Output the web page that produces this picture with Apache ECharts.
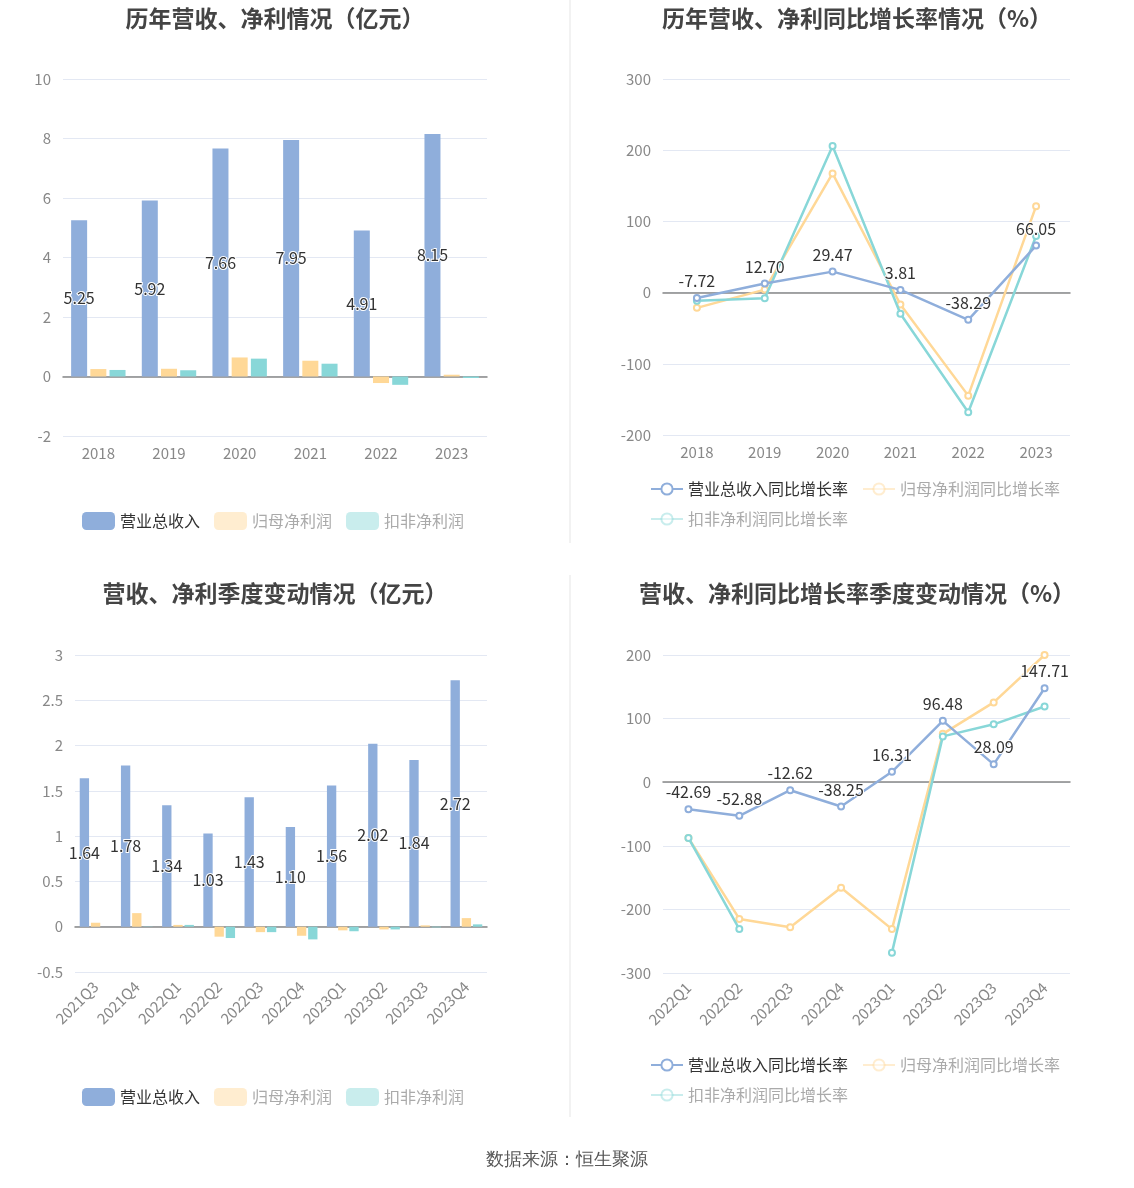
<!DOCTYPE html>
<html><head><meta charset="utf-8">
<script src="https://cdn.jsdelivr.net/npm/echarts@6/dist/echarts.min.js"></script>
<style>html,body{margin:0;padding:0;background:#fff}#c{width:1134px;height:1188px}</style>
</head><body><div id="c"></div>
<script>
const years = ['2018','2019','2020','2021','2022','2023'];
const yearRevenue = [5.25, 5.92, 7.66, 7.95, 4.91, 8.15];
const yearNetProfit = [0.25, 0.26, 0.64, 0.53, -0.22, 0.06];
const yearDeductedProfit = [0.22, 0.21, 0.60, 0.43, -0.28, -0.05];

const yearRevenueGrowth = [-7.72, 12.70, 29.47, 3.81, -38.29, 66.05];
const yearNetProfitGrowth = [-21.4, 4.2, 167.4, -16.7, -144.7, 121.4];
const yearDeductedGrowth = [-11.6, -7.9, 206, -29.8, -168, 79.5];

const quarters = ['2021Q3','2021Q4','2022Q1','2022Q2','2022Q3','2022Q4','2023Q1','2023Q2','2023Q3','2023Q4'];
const qRevenue = [1.64, 1.78, 1.34, 1.03, 1.43, 1.10, 1.56, 2.02, 1.84, 2.72];
const qNetProfit = [0.044, 0.15, 0.02, -0.11, -0.06, -0.10, -0.04, -0.03, 0.015, 0.095];
const qDeductedProfit = [0, 0.003, 0.02, -0.125, -0.06, -0.14, -0.05, -0.03, -0.007, 0.026];

const gQuarters = ['2022Q1','2022Q2','2022Q3','2022Q4','2023Q1','2023Q2','2023Q3','2023Q4'];
const qRevenueGrowth = [-42.69, -52.88, -12.62, -38.25, 16.31, 96.48, 28.09, 147.71];
const qNetProfitGrowth = [-87.7, -215, -228, -166, -231, 76, 125.5, 200];
const qDeductedGrowth = [-87.7, -231, null, null, -268, 72, 91, 119];

const C_BLUE = '#8FAEDB', C_ORANGE = '#FFD897', C_CYAN = '#88D7D8';
const FONT = '"Noto Sans CJK SC","Noto Sans",sans-serif';
const barNames = ['营业总收入','归母净利润','扣非净利润'];
const lineNames = ['营业总收入同比增长率','归母净利润同比增长率','扣非净利润同比增长率'];

const axisLabel = {color:'#888', fontSize:15, fontFamily:FONT};
function xAxis(gi, data, rotate){
  return {type:'category', gridIndex:gi, data:data,
    axisLine:{onZero:true, lineStyle:{color:'#888', width:1.5}},
    axisTick:{alignWithLabel:true, length:6, lineStyle:{color:'#888'}},
    axisLabel:Object.assign({margin: rotate?12:10, rotate:rotate||0, interval:0}, axisLabel)};
}
function yAxis(gi, min, max, interval){
  return {type:'value', gridIndex:gi, min:min, max:max, interval:interval,
    axisLine:{show:false}, axisTick:{show:false},
    splitLine:{lineStyle:{color:'#E3E8F3'}},
    axisLabel:Object.assign({margin:12}, axisLabel)};
}
const barLabel = {show:true, position:'inside', color:'#333', fontSize:16, fontFamily:FONT,
  textBorderColor:'#fff', textBorderWidth:2, formatter:p=>p.value.toFixed(2)};
const lineLabel = {show:true, position:'top', color:'#333', fontSize:16, fontFamily:FONT,
  textBorderColor:'#fff', textBorderWidth:2, formatter:p=>p.value.toFixed(2)};

function bars(xi, rev, np, dp){
  return [
    {name:barNames[0], type:'bar', xAxisIndex:xi, yAxisIndex:xi, data:rev, itemStyle:{color:C_BLUE}, label:barLabel, barGap:'20%'},
    {name:barNames[1], type:'bar', xAxisIndex:xi, yAxisIndex:xi, data:np, itemStyle:{color:C_ORANGE}, barGap:'20%'},
    {name:barNames[2], type:'bar', xAxisIndex:xi, yAxisIndex:xi, data:dp, itemStyle:{color:C_CYAN}, barGap:'20%'}
  ];
}
function lines(xi, rev, np, dp){
  const base = {type:'line', xAxisIndex:xi, yAxisIndex:xi, symbol:'emptyCircle', symbolSize:6, connectNulls:false};
  return [
    Object.assign({}, base, {name:lineNames[0], data:rev, itemStyle:{color:C_BLUE}, lineStyle:{width:2.5, color:C_BLUE}, label:lineLabel, z:5}),
    Object.assign({}, base, {name:lineNames[1], data:np, itemStyle:{color:C_ORANGE}, lineStyle:{width:2.5, color:C_ORANGE}, z:3}),
    Object.assign({}, base, {name:lineNames[2], data:dp, itemStyle:{color:C_CYAN}, lineStyle:{width:2.5, color:C_CYAN}, z:4})
  ];
}
function legendData(names){
  return names.map((n,i)=> i===0 ? {name:n, textStyle:{color:'#333'}} :
    {name:n, textStyle:{color:'#aaa'}, itemStyle:{opacity:0.45}, lineStyle:{opacity:0.45}});
}
const titleStyle = {fontSize:23, fontWeight:'bold', color:'#444', fontFamily:FONT};
const legText = {fontSize:16, fontFamily:FONT};

const option = {
  animation:false,
  textStyle:{fontFamily:FONT},
  title:[
    {text:'历年营收、净利情况（亿元）', left:270, top:2, textAlign:'center', textStyle:titleStyle},
    {text:'历年营收、净利同比增长率情况（%）', left:852, top:2, textAlign:'center', textStyle:titleStyle},
    {text:'营收、净利季度变动情况（亿元）', left:270, top:577, textAlign:'center', textStyle:titleStyle},
    {text:'营收、净利同比增长率季度变动情况（%）', left:852, top:577, textAlign:'center', textStyle:titleStyle}
  ],
  legend:[
    {left:77, top:507, itemWidth:33, itemHeight:18, itemGap:14, icon:'roundRect', data:legendData(barNames), textStyle:legText, selectedMode:false},
    {left:645, top:476, width:450, itemWidth:32, itemHeight:14, itemGap:14, data:legendData(lineNames), textStyle:legText, selectedMode:false},
    {left:77, top:1083, itemWidth:33, itemHeight:18, itemGap:14, icon:'roundRect', data:legendData(barNames), textStyle:legText, selectedMode:false},
    {left:645, top:1052, width:450, itemWidth:32, itemHeight:14, itemGap:14, data:legendData(lineNames), textStyle:legText, selectedMode:false}
  ],
  grid:[
    {left:63, right:647, top:79, bottom:752},
    {left:663, right:64, top:79, bottom:753},
    {left:75, right:647, top:655, bottom:216},
    {left:663, right:64, top:655, bottom:215}
  ],
  xAxis:[xAxis(0, years), xAxis(1, years), xAxis(2, quarters, 45), xAxis(3, gQuarters, 45)],
  yAxis:[yAxis(0,-2,10,2), yAxis(1,-200,300,100), yAxis(2,-0.5,3,0.5), yAxis(3,-300,200,100)],
  series:[].concat(
    bars(0, yearRevenue, yearNetProfit, yearDeductedProfit),
    lines(1, yearRevenueGrowth, yearNetProfitGrowth, yearDeductedGrowth),
    bars(2, qRevenue, qNetProfit, qDeductedProfit),
    lines(3, qRevenueGrowth, qNetProfitGrowth, qDeductedGrowth)
  ),
  graphic:[
    {type:'line', shape:{x1:570, y1:0, x2:570, y2:543}, style:{stroke:'#eeeeee', lineWidth:1.5}},
    {type:'line', shape:{x1:570, y1:575, x2:570, y2:1117}, style:{stroke:'#eeeeee', lineWidth:1.5}},
    {type:'text', left:'center', top:1151, style:{text:'数据来源：恒生聚源', fontSize:18, fill:'#555', font:'18px "Noto Sans CJK SC"'}}
  ]
};
const chart = echarts.init(document.getElementById('c'), null, {renderer:'canvas'});
chart.setOption(option);
</script></body></html>
